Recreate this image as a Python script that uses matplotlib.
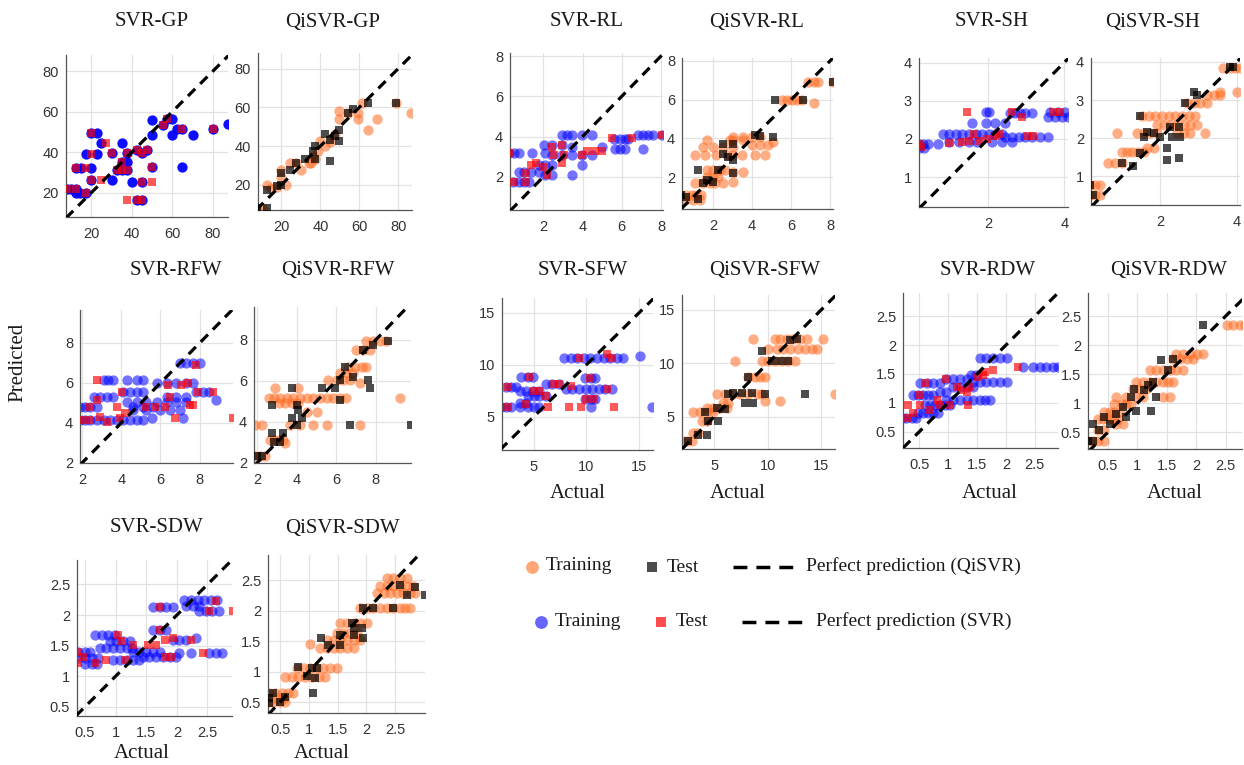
import numpy as np
import matplotlib
matplotlib.use('Agg')
import matplotlib.pyplot as plt
from matplotlib.ticker import FormatStrFormatter

# (actual, predicted) pairs for each trait; SVR in blue/red, QiSVR in orange/black
gp_svr_train = [(8, 22), (10, 22), (12.5, 22), (12.5, 20), (14.5, 20), (17.4, 20), (12.4, 32.3), (15, 32.3),
                (19.7, 32.3), (17.4, 39), (22.6, 39), (19.7, 49.3), (22.6, 49.3), (19.7, 26.2), (24.8, 44.3),
                (30, 26.2), (30, 39.4), (32.9, 31.2), (35, 31.2), (35, 35.3), (35, 44.3), (37.5, 35.3),
                (37.5, 39.4), (37.5, 31.2), (40, 25.4), (42.4, 41), (42.4, 16.4), (44.9, 39.4), (44.9, 25.4),
                (44.9, 16.4), (47.4, 41), (50, 32.8), (50, 48.4), (50, 55.8), (55.6, 53.4), (57.2, 56.2),
                (60, 56.2), (60, 48.4), (62.2, 51.4), (65, 51.4), (65, 32.8), (70, 48.4), (80, 51.4), (87.4, 53.7)]
gp_svr_test = [(8, 22), (12.5, 22), (17.4, 20), (12.4, 32.3), (17.4, 32.3), (19.7, 39), (19.7, 49.3), (19.7, 26.2),
               (27.3, 44.3), (24.8, 26.2), (30, 39.4), (32.9, 31.2), (35, 31.2), (35, 35.3), (37.5, 39.4),
               (37.5, 31.2), (37.5, 16.4), (42.4, 41), (42.4, 16.4), (44.9, 39.4), (44.9, 25.4), (44.9, 16.4),
               (47.4, 41), (50, 32.8), (50, 25.4), (55.6, 53.4), (57.2, 56.2), (65, 51.4), (80, 51.4)]
gp_qi_train = [(7.6, 7.9), (10.2, 7.9), (12.7, 20), (14.7, 18.3), (17.8, 19.1), (20, 27.8), (20, 24), (22.5, 20),
               (24.6, 31.2), (27.6, 31.2), (30.2, 27.8), (34.4, 31.2), (35, 31), (36.4, 34.7), (37.3, 33.3),
               (39, 37.3), (39.8, 42.5), (42.4, 39.9), (44.9, 42), (47.5, 46), (49.7, 58), (49.7, 53.7),
               (54.2, 57.2), (59.3, 53.7), (59.3, 57.2), (61.5, 62), (64.4, 48.2), (69.2, 54), (78.8, 62), (86.4, 57.2)]
gp_qi_test = [(7.6, 7.9), (12.7, 7.9), (12.7, 17.4), (17.8, 19.5), (20, 26), (20, 20), (24.6, 27.8), (27.6, 31.2),
              (32.2, 33.3), (36.4, 37.3), (37.3, 40), (37.3, 33.3), (42.4, 46), (44.9, 32.1), (44.9, 43.3),
              (47.5, 45), (49.7, 42.5), (49.7, 48.5), (54.2, 57.2), (56.8, 58.9), (64.4, 62), (78.8, 62)]

rl_svr_train = [(0.26, 3.2), (0.51, 3.2), (0.76, 3.2), (1.44, 3.2), (2.1, 3.2), (0.46, 1.75), (0.77, 1.75),
                (1.02, 1.75), (1.27, 1.75), (0.77, 2.25), (1.02, 2.25), (1.36, 2.25), (1.78, 2.25), (2.1, 2.1),
                (2.45, 2.1), (1.78, 2.6), (2.1, 2.6), (2.45, 2.6), (2.03, 3.6), (2.45, 3.6), (2.96, 3.6),
                (3.47, 3.5), (2.96, 4.1), (3.2, 4.1), (3.47, 4.1), (3.98, 4.1), (4.48, 4.1), (2.45, 3.1),
                (2.96, 3.1), (3.47, 3.1), (3.98, 3.1), (4.48, 3.1), (3.47, 2.1), (3.98, 2.6), (4.99, 3.5),
                (5.58, 3.9), (5.9, 3.9), (6.17, 3.9), (6.34, 3.9), (5.67, 3.4), (5.9, 3.4), (6.17, 3.4),
                (6.85, 4.1), (7.1, 4.1), (7.35, 4.1), (7.6, 4.1), (8.03, 4.1), (7.1, 3.4)]
rl_svr_test = [(0.26, 3.2), (0.51, 1.75), (1.1, 1.75), (1.1, 2.17), (1.36, 2.6), (1.61, 2.67), (2.0, 2.5),
               (2.2, 2.1), (2.45, 3.5), (2.54, 3.1), (2.96, 3.6), (2.96, 2.67), (3.05, 3.1), (3.98, 3.1),
               (4.23, 3.26), (4.65, 3.26), (5.0, 3.26), (5.5, 3.93), (6.5, 3.93), (8.03, 4.1)]
rl_qi_train = [(0.37, 1.08), (0.63, 1.08), (0.89, 1.08), (1.14, 1.08), (1.4, 1.08), (0.54, 0.84), (0.97, 0.84),
               (1.31, 0.84), (1.06, 1.69), (1.49, 1.69), (1.83, 1.69), (2.09, 1.69), (2.51, 1.69), (1.66, 2.0),
               (2.0, 2.0), (2.26, 2.0), (1.66, 2.35), (2.0, 2.35), (2.34, 2.35), (2.6, 2.35), (1.06, 3.12),
               (1.57, 3.12), (2.17, 3.12), (2.69, 3.12), (3.03, 3.12), (3.46, 3.12), (1.49, 3.56), (2.0, 3.56),
               (2.51, 3.56), (3.03, 3.56), (1.66, 3.9), (2.86, 3.9), (3.03, 3.9), (3.54, 3.9), (3.03, 4.08),
               (3.54, 4.08), (3.97, 4.08), (4.4, 4.08), (3.97, 3.64), (4.4, 3.64), (4.83, 3.64), (4.14, 3.12),
               (4.66, 3.12), (3.03, 2.26), (3.54, 2.26), (3.03, 1.74), (5.09, 3.82), (5.52, 5.98), (5.77, 5.98),
               (6.03, 5.98), (6.29, 5.98), (6.55, 5.98), (7.15, 5.8), (6.89, 6.93), (7.15, 6.93), (7.4, 6.93),
               (8.17, 6.93)]
rl_qi_test = [(0.37, 1.08), (0.63, 0.96), (1.23, 2.35), (1.23, 0.88), (1.49, 1.69), (1.66, 1.83), (2.0, 1.74),
              (2.26, 2.35), (2.51, 3.7), (2.51, 3.18), (2.77, 3.04), (3.03, 2.21), (3.03, 3.73), (3.03, 2.87),
              (4.14, 4.16), (4.4, 4.11), (5.09, 4.08), (5.17, 5.98), (6.63, 5.98), (8.17, 6.93)]

sh_svr_train = [(0.17, 1.87), (0.28, 1.87), (0.41, 1.87), (0.19, 1.76), (0.32, 1.76), (0.67, 1.86), (0.97, 1.91),
                (1.23, 1.91), (1.5, 1.91), (1.71, 1.91), (0.8, 2.13), (0.97, 2.13), (1.15, 2.13), (1.32, 2.13),
                (1.5, 2.13), (1.67, 2.13), (1.84, 2.13), (2.02, 2.13), (2.19, 2.13), (2.37, 2.13), (2.45, 2.04),
                (2.63, 2.04), (2.8, 2.04), (2.97, 2.04), (3.15, 2.04), (3.37, 2.04), (3.58, 2.04), (1.58, 2.43),
                (1.93, 2.43), (2.19, 2.43), (2.45, 2.43), (1.93, 2.7), (2.02, 2.7), (2.58, 2.68), (2.71, 2.68),
                (2.84, 2.68), (2.97, 2.68), (3.15, 2.68), (3.58, 2.57), (3.76, 2.57), (3.93, 2.57), (4.1, 2.57),
                (3.63, 2.7), (3.84, 2.7), (4.02, 2.7), (2.1, 1.91), (2.37, 1.91), (2.63, 1.91)]
sh_svr_test = [(0.19, 1.87), (0.23, 1.78), (0.97, 1.9), (1.32, 1.91), (1.45, 2.7), (1.5, 1.96), (1.63, 2.13),
               (1.76, 1.96), (1.97, 2.0), (2.19, 2.09), (2.28, 2.13), (2.63, 2.7), (2.89, 2.57), (3.02, 2.09),
               (3.19, 2.09), (3.71, 2.7), (3.89, 2.7)]
sh_qi_train = [(0.17, 0.78), (0.3, 0.78), (0.43, 0.78), (0.17, 0.52), (0.3, 0.52), (0.43, 0.52), (0.65, 1.35),
               (0.83, 1.35), (1.0, 1.35), (1.0, 1.65), (1.13, 1.65), (1.26, 1.65), (1.43, 1.65), (1.57, 1.65),
               (0.87, 2.13), (1.39, 2.13), (1.57, 2.13), (1.74, 2.13), (1.91, 2.13), (1.65, 1.74), (1.83, 1.74),
               (1.52, 2.57), (1.7, 2.57), (1.87, 2.57), (2.04, 2.57), (2.22, 2.57), (2.39, 2.57), (2.57, 2.57),
               (2.74, 2.57), (2.91, 2.57), (1.91, 2.35), (2.09, 2.35), (2.26, 2.35), (2.43, 2.35), (2.61, 2.35),
               (2.78, 2.35), (2.96, 2.35), (2.43, 2.13), (2.61, 2.13), (2.78, 2.13), (2.7, 2.91), (2.87, 2.91),
               (3.04, 2.91), (3.22, 2.91), (3.22, 3.13), (3.39, 3.13), (3.57, 3.13), (3.57, 3.22), (4.0, 3.22),
               (3.65, 3.83), (3.83, 3.83), (3.96, 3.83), (4.09, 3.83), (3.17, 2.13)]
sh_qi_test = [(0.17, 0.78), (0.26, 0.52), (1.0, 1.35), (1.3, 1.26), (1.48, 2.57), (1.48, 1.61), (1.57, 2.04),
              (1.65, 2.17), (1.83, 2.13), (2.0, 2.04), (2.17, 1.74), (2.17, 1.43), (2.26, 2.3), (2.3, 2.04),
              (2.48, 2.3), (2.48, 1.48), (2.52, 2.04), (2.65, 2.91), (2.87, 3.22), (2.96, 3.13), (3.83, 3.87),
              (3.91, 3.87)]

rfw_svr_train = [(1.92, 4.14), (2.17, 4.14), (2.42, 4.14), (2.76, 4.14), (3.1, 4.14), (3.44, 4.14), (3.77, 4.14),
                 (4.11, 4.14), (4.45, 4.14), (4.79, 4.14), (5.13, 4.14), (1.92, 4.81), (2.17, 4.81), (2.42, 4.81),
                 (2.76, 4.81), (4.62, 4.81), (5.13, 4.81), (5.63, 4.81), (2.59, 5.32), (2.93, 5.32), (3.27, 5.32),
                 (3.6, 5.32), (3.1, 6.15), (3.35, 6.15), (3.6, 6.15), (4.28, 6.15), (4.79, 6.15), (5.13, 6.15),
                 (4.11, 5.57), (4.45, 5.57), (4.79, 5.57), (5.13, 5.57), (4.28, 5.07), (4.79, 5.07), (5.29, 5.07),
                 (5.8, 5.07), (6.31, 5.07), (6.81, 5.07), (7.32, 5.07), (4.62, 4.65), (5.29, 4.65), (5.97, 4.65),
                 (6.48, 4.65), (6.98, 4.65), (5.8, 5.98), (6.31, 5.98), (6.81, 5.98), (6.31, 5.32), (6.81, 5.32),
                 (7.32, 5.32), (6.98, 7.0), (7.32, 7.0), (7.66, 7.0), (8.0, 7.0), (7.32, 5.98), (7.66, 5.98),
                 (7.83, 5.57), (8.17, 5.57), (8.5, 5.57), (8.84, 5.15), (7.15, 4.23), (5.55, 4.23)]
rfw_svr_test = [(2.0, 4.14), (2.34, 4.81), (2.34, 4.14), (2.76, 6.15), (2.76, 5.15), (2.93, 4.31), (3.27, 4.06),
                (3.77, 4.81), (3.94, 4.23), (4.03, 5.57), (4.2, 4.48), (5.29, 4.81), (5.72, 4.81), (6.22, 4.81),
                (6.39, 5.9), (6.48, 5.32), (6.73, 4.23), (7.07, 5.9), (7.4, 5.98), (7.49, 4.9), (7.66, 4.9),
                (7.83, 6.91), (7.9, 5.57), (8.67, 5.57), (9.7, 4.23)]
rfw_qi_train = [(1.92, 2.33), (2.17, 2.33), (2.42, 2.33), (1.92, 3.84), (2.25, 3.84), (2.67, 3.11), (2.84, 3.11),
                (3.09, 3.11), (3.34, 3.11), (3.42, 2.95), (2.59, 5.15), (2.84, 5.15), (3.17, 5.15), (3.51, 5.15),
                (3.84, 5.15), (4.18, 5.15), (4.51, 5.15), (4.85, 5.15), (5.18, 5.15), (5.52, 5.15), (5.85, 5.15),
                (6.19, 5.15), (6.52, 5.15), (3.09, 4.9), (3.42, 4.9), (3.76, 4.9), (4.09, 4.9), (2.92, 5.64),
                (4.09, 5.64), (3.67, 3.84), (4.18, 3.84), (4.85, 3.84), (5.52, 3.84), (4.51, 4.5), (5.01, 4.5),
                (5.6, 6.05), (6.02, 6.05), (6.36, 6.05), (6.69, 6.05), (6.19, 6.37), (6.52, 6.37), (6.86, 6.37),
                (6.61, 6.7), (6.94, 6.7), (7.28, 6.7), (7.53, 6.7), (7.02, 7.51), (7.36, 7.51), (7.7, 7.51),
                (7.53, 7.92), (7.86, 7.92), (8.2, 7.92), (8.53, 7.92), (7.19, 3.84), (9.2, 5.15), (7.19, 5.88)]
rfw_qi_test = [(2.0, 2.33), (2.25, 2.33), (2.75, 3.44), (2.84, 3.03), (3.17, 3.03), (2.75, 4.82), (3.34, 3.44),
               (3.76, 5.64), (3.76, 4.17), (4.01, 4.82), (4.01, 3.84), (4.09, 4.58), (4.26, 4.17), (5.27, 5.64),
               (5.94, 5.64), (6.19, 6.05), (6.19, 5.07), (6.44, 6.7), (6.86, 6.21), (7.36, 7.51), (7.61, 6.05),
               (7.7, 5.64), (7.86, 7.76), (8.62, 7.92), (6.69, 3.84), (9.79, 3.84)]

sfw_svr_train = [(1.94, 5.93), (2.41, 5.93), (2.88, 5.93), (3.66, 5.93), (4.44, 5.93), (5.06, 5.93), (5.53, 5.93),
                 (16.16, 5.93), (10.4, 5.93), (2.41, 7.88), (2.88, 7.88), (3.34, 7.88), (3.81, 8.81), (4.44, 8.81),
                 (4.9, 8.81), (3.66, 7.47), (4.28, 7.47), (4.9, 7.47), (5.53, 7.47), (4.44, 6.99), (5.06, 6.99),
                 (5.53, 6.99), (6.16, 6.99), (3.66, 6.35), (4.28, 6.35), (6.16, 8.1), (6.78, 8.1), (7.41, 8.1),
                 (8.03, 7.63), (8.66, 7.63), (9.28, 7.63), (9.91, 7.63), (10.53, 7.63), (11.16, 7.63),
                 (11.78, 7.63), (12.41, 7.63), (7.87, 10.67), (8.5, 10.67), (9.12, 10.67), (9.75, 10.67),
                 (10.37, 10.67), (11.0, 10.67), (11.62, 10.67), (12.25, 10.67), (12.87, 10.67), (13.5, 10.67),
                 (15.06, 10.83), (9.9, 8.75), (10.4, 8.75), (10.8, 8.75), (9.9, 6.67), (10.4, 6.67), (10.8, 6.67)]
sfw_svr_test = [(2.56, 7.88), (2.56, 5.93), (4.28, 6.25), (4.6, 8.81), (5.06, 7.47), (5.53, 7.47), (6.16, 6.99),
                (6.31, 5.93), (6.94, 8.1), (7.41, 8.1), (8.34, 5.93), (8.5, 7.95), (9.44, 5.93), (9.28, 10.67),
                (9.91, 6.67), (10.37, 8.75), (10.69, 6.67), (11.94, 7.63), (11.94, 11.0), (12.41, 10.67),
                (12.56, 5.93)]
sfw_qi_train = [(1.98, 2.79), (2.45, 2.79), (2.91, 2.79), (3.07, 3.49), (3.54, 3.49), (3.85, 4.59), (4.31, 4.59),
                (3.07, 5.44), (3.69, 5.44), (4.31, 5.44), (4.94, 5.44), (4.31, 5.85), (4.94, 5.85), (5.56, 5.85),
                (6.18, 5.85), (5.87, 6.32), (6.34, 6.32), (5.25, 7.11), (6.03, 7.11), (6.81, 7.11), (7.43, 7.11),
                (8.21, 7.11), (9.0, 7.11), (9.77, 6.48), (11.17, 6.48), (8.21, 8.69), (8.83, 8.69), (9.3, 8.69),
                (9.77, 8.69), (6.96, 10.27), (9.46, 10.27), (10.08, 10.27), (10.7, 10.27), (11.32, 10.27),
                (11.95, 10.27), (12.57, 10.27), (10.08, 11.37), (10.86, 11.37), (11.48, 11.37), (12.1, 11.37),
                (12.88, 11.37), (13.5, 11.37), (14.12, 11.37), (14.6, 11.37), (8.68, 12.32), (10.7, 12.32),
                (11.17, 12.32), (11.79, 12.32), (12.41, 12.32), (13.04, 12.32), (13.66, 12.32), (15.22, 12.32),
                (16.3, 7.11), (9.46, 7.11)]
sfw_qi_test = [(2.6, 2.79), (3.54, 3.33), (4.31, 3.33), (4.16, 5.44), (4.47, 4.59), (5.25, 5.85), (5.4, 4.59),
               (6.03, 5.76), (6.34, 7.11), (6.81, 7.27), (7.59, 7.27), (7.9, 6.32), (8.21, 8.69), (8.52, 7.27),
               (8.68, 6.32), (9.46, 11.21), (9.77, 7.11), (10.39, 10.27), (11.17, 10.27), (11.95, 10.27),
               (12.1, 12.16), (12.73, 12.32), (13.5, 7.11)]

rdw_svr_train = [(0.21, 0.74), (0.28, 0.74), (0.37, 0.74), (0.45, 0.74), (0.48, 0.83), (0.57, 0.83), (0.66, 0.83),
                 (0.74, 0.83), (0.83, 0.83), (0.6, 0.96), (0.68, 0.96), (0.77, 0.96), (0.86, 0.96), (0.94, 0.96),
                 (1.03, 0.96), (0.4, 1.13), (0.48, 1.13), (0.57, 1.13), (0.66, 1.13), (0.74, 1.13), (0.51, 1.34),
                 (0.63, 1.34), (0.74, 1.34), (0.86, 1.34), (0.97, 1.05), (1.09, 1.05), (1.2, 1.05), (1.32, 1.05),
                 (1.43, 1.05), (1.55, 1.05), (1.64, 1.05), (1.72, 1.05), (0.97, 1.42), (1.09, 1.42), (1.2, 1.42),
                 (1.32, 1.42), (1.09, 1.28), (1.2, 1.28), (1.32, 1.28), (1.43, 1.28), (1.43, 1.36), (1.55, 1.36),
                 (1.66, 1.36), (1.78, 1.36), (1.89, 1.36), (2.01, 1.36), (1.4, 1.48), (1.49, 1.48), (1.55, 1.77),
                 (1.66, 1.77), (1.78, 1.77), (1.89, 1.77), (2.01, 1.77), (2.3, 1.62), (2.47, 1.62), (2.59, 1.62),
                 (2.7, 1.62), (2.82, 1.62), (2.9, 1.62), (0.86, 1.19), (0.97, 1.19)]
rdw_svr_test = [(0.31, 0.96), (0.31, 0.74), (0.4, 0.83), (0.51, 1.13), (0.51, 0.96), (0.6, 1.34), (0.68, 0.87),
                (0.8, 1.05), (0.86, 0.96), (0.97, 1.42), (1.03, 0.96), (1.15, 1.28), (1.23, 1.22), (1.32, 1.19),
                (1.35, 0.96), (1.38, 1.28), (1.52, 1.45), (1.61, 1.48), (1.64, 1.54), (1.78, 1.57), (2.21, 1.62)]
rdw_qi_train = [(0.16, 0.34), (0.24, 0.34), (0.33, 0.34), (0.44, 0.34), (0.33, 0.53), (0.44, 0.53), (0.33, 0.73),
                (0.41, 0.73), (0.5, 0.73), (0.59, 0.73), (0.67, 0.73), (0.44, 0.85), (0.53, 0.85), (0.61, 0.85),
                (0.7, 0.85), (0.64, 0.64), (0.76, 0.64), (0.61, 0.99), (0.73, 0.99), (0.81, 0.99), (0.9, 0.99),
                (0.64, 1.1), (0.81, 1.1), (0.98, 1.1), (1.1, 1.1), (0.98, 1.36), (1.1, 1.36), (1.21, 1.36),
                (1.32, 1.36), (1.44, 1.36), (1.52, 1.36), (1.61, 1.36), (0.93, 1.25), (1.04, 1.25), (1.15, 1.25),
                (1.44, 1.1), (1.55, 1.1), (1.21, 1.58), (1.32, 1.58), (1.44, 1.58), (1.55, 1.58), (1.66, 1.58),
                (1.78, 1.58), (1.61, 1.77), (1.72, 1.77), (1.84, 1.77), (1.95, 1.77), (1.66, 1.85), (1.78, 1.85),
                (1.89, 1.85), (2.01, 1.85), (2.12, 1.85), (2.52, 2.34), (2.63, 2.34), (2.74, 2.34), (2.83, 2.34)]
rdw_qi_test = [(0.16, 0.34), (0.24, 0.34), (0.24, 0.64), (0.35, 0.53), (0.44, 0.76), (0.53, 0.64), (0.64, 0.82),
               (0.76, 0.93), (0.81, 0.76), (0.9, 1.1), (0.95, 1.25), (0.98, 0.87), (1.12, 1.22), (1.18, 1.31),
               (1.27, 1.36), (1.24, 0.87), (1.32, 1.1), (1.41, 1.74), (1.52, 1.57), (1.61, 1.77), (2.12, 2.34)]

sdw_svr_train = [(0.39, 1.4), (0.5, 1.4), (0.58, 1.4), (0.39, 1.29), (0.5, 1.29), (0.61, 1.29), (0.72, 1.29),
                 (0.5, 1.2), (0.61, 1.2), (0.69, 1.2), (0.66, 1.68), (0.77, 1.68), (0.88, 1.68), (0.99, 1.68),
                 (0.91, 1.57), (1.01, 1.57), (1.12, 1.57), (1.23, 1.57), (0.74, 1.46), (0.85, 1.46), (0.96, 1.46),
                 (1.07, 1.46), (1.18, 1.46), (1.26, 1.46), (0.96, 1.27), (1.07, 1.27), (1.18, 1.27), (1.28, 1.27),
                 (1.39, 1.27), (1.28, 1.4), (1.39, 1.4), (1.5, 1.4), (1.61, 1.4), (1.72, 1.4), (1.45, 1.32),
                 (1.55, 1.32), (1.66, 1.32), (1.77, 1.32), (1.88, 1.32), (1.99, 1.32), (1.61, 1.76), (1.72, 1.76),
                 (1.82, 1.76), (1.61, 2.13), (1.72, 2.13), (1.82, 2.13), (1.93, 2.13), (1.93, 1.6), (2.04, 1.6),
                 (2.15, 1.6), (2.04, 1.38), (2.23, 1.38), (2.53, 1.38), (2.64, 1.38), (2.74, 1.38), (2.12, 2.25),
                 (2.23, 2.25), (2.34, 2.25), (2.45, 2.25), (2.55, 2.25), (2.66, 2.25), (2.15, 2.14), (2.26, 2.14),
                 (2.36, 2.14), (2.36, 2.06), (2.47, 2.06), (2.58, 2.06), (2.69, 2.06), (2.31, 1.62)]
sdw_svr_test = [(0.38, 1.4), (0.39, 1.21), (0.47, 1.32), (0.66, 1.21), (0.85, 1.27), (1.04, 1.68), (1.09, 1.57),
                (1.15, 1.27), (1.28, 1.51), (1.53, 1.51), (1.66, 1.51), (1.72, 1.76), (1.8, 1.6), (1.82, 1.32),
                (1.9, 1.32), (1.93, 1.62), (1.72, 2.13), (2.23, 1.6), (2.42, 1.38), (2.64, 2.23), (2.53, 2.07),
                (2.91, 2.06)]
sdw_qi_train = [(0.3, 0.5), (0.38, 0.5), (0.5, 0.5), (0.59, 0.5), (0.3, 0.65), (0.41, 0.65), (0.53, 0.65),
                (0.64, 0.65), (0.73, 0.65), (0.44, 0.57), (0.56, 0.57), (0.59, 0.91), (0.7, 0.91), (0.82, 0.91),
                (0.93, 0.91), (1.05, 0.91), (1.17, 0.91), (1.28, 0.91), (0.79, 1.06), (0.91, 1.06), (1.02, 1.06),
                (1.14, 1.06), (1.25, 1.06), (1.37, 1.06), (1.49, 1.06), (1.02, 1.45), (1.2, 1.38), (1.31, 1.38),
                (1.43, 1.38), (1.54, 1.38), (1.66, 1.38), (1.78, 1.38), (1.31, 1.52), (1.43, 1.52), (1.54, 1.52),
                (1.66, 1.52), (1.78, 1.52), (1.89, 1.52), (1.49, 1.63), (1.6, 1.63), (1.72, 1.63), (1.83, 1.63),
                (1.54, 1.79), (1.66, 1.79), (1.78, 1.79), (1.89, 1.79), (2.01, 1.79), (1.89, 2.04), (2.01, 2.04),
                (2.12, 2.04), (2.24, 2.04), (2.36, 2.04), (2.47, 2.04), (2.59, 2.04), (2.67, 2.04), (2.76, 2.04),
                (2.18, 2.28), (2.3, 2.28), (2.41, 2.28), (2.53, 2.28), (2.64, 2.28), (2.76, 2.28), (2.85, 2.28),
                (2.24, 2.4), (2.36, 2.4), (2.47, 2.4), (2.59, 2.4), (2.7, 2.4), (2.82, 2.4), (2.36, 2.53),
                (2.47, 2.53), (2.59, 2.53), (2.7, 2.53)]
sdw_qi_test = [(0.3, 0.57), (0.3, 0.48), (0.38, 0.65), (0.5, 0.5), (0.59, 0.59), (0.82, 1.08), (0.96, 0.92),
               (1.05, 1.06), (1.11, 0.89), (1.14, 1.06), (1.08, 0.65), (1.22, 1.55), (1.34, 1.44), (1.54, 1.44),
               (1.54, 1.6), (1.75, 1.79), (1.78, 1.6), (1.78, 1.71), (1.92, 1.71), (1.95, 1.55), (1.95, 2.04),
               (2.12, 2.04), (2.47, 2.04), (2.59, 2.42), (2.7, 2.25), (2.84, 2.39), (3.02, 2.25)]

W, H = 1244, 765
BLUE, RED = '#0000ff', '#ff0000'
ORANGE, BLACK = '#ff6a1f', '#000000'
SERIF = ['Liberation Serif', 'DejaVu Serif']
SANS = ['Liberation Sans', 'DejaVu Sans']

plt.rcParams['font.family'] = SANS


def unzip(pts):
  a = np.array(pts, dtype=float)
  return a[:, 0], a[:, 1]


def panel(fig, box, train, test, xlim, ylim, ticks, qi, blue_alpha=0.55):
  l, t, r, b = box
  ax = fig.add_axes([l / W, 1 - b / H, (r - l) / W, (b - t) / H])
  tx, ty = unzip(train)
  sx, sy = unzip(test)
  if qi:
    ax.scatter(tx, ty, s=55, marker='o', color=ORANGE, alpha=0.55, linewidths=0, zorder=2)
    ax.scatter(sx, sy, s=30, marker='s', color=BLACK, alpha=0.7, linewidths=0, zorder=3)
  else:
    ax.scatter(tx, ty, s=55, marker='o', color=BLUE, alpha=blue_alpha, linewidths=0, zorder=2)
    ax.scatter(sx, sy, s=30, marker='s', color=RED, alpha=0.65, linewidths=0, zorder=3)
  lo, hi = min(xlim[0], ylim[0]), max(xlim[1], ylim[1])
  ax.plot([lo, hi], [lo, hi], color='black', lw=2.3, dashes=(3.2, 2.2), zorder=4)
  ax.set_xlim(xlim)
  ax.set_ylim(ylim)
  ax.set_xticks(ticks[0])
  ax.set_yticks(ticks[1])
  fmt = FormatStrFormatter('%g')
  ax.xaxis.set_major_formatter(fmt)
  ax.yaxis.set_major_formatter(fmt)
  ax.grid(True, color='#e2e2e2', lw=0.9, zorder=0)
  ax.set_axisbelow(True)
  for s in ('top', 'right'):
    ax.spines[s].set_visible(False)
  for s in ('left', 'bottom'):
    ax.spines[s].set_color('#555555')
    ax.spines[s].set_linewidth(0.9)
  ax.tick_params(axis='both', length=0, labelsize=10.5, labelcolor='#333333')
  ax.tick_params(axis='x', pad=7)
  ax.tick_params(axis='y', pad=5)
  return ax


fig = plt.figure(figsize=(W / 100, H / 100), dpi=100)

t20 = [20, 40, 60, 80]
t2 = [2, 4, 6, 8]
th = [0.5, 1, 1.5, 2, 2.5]

panel(fig, (66, 55, 228, 217), gp_svr_train, gp_svr_test, (7.5, 87.5), (8, 88), (t20, t20), False, blue_alpha=0.95)
panel(fig, (258, 53, 412, 210), gp_qi_train, gp_qi_test, (8, 87), (7, 88), (t20, t20), True)
panel(fig, (510, 53, 663, 210), rl_svr_train, rl_svr_test, (0.3, 8.1), (0.35, 8.15), (t2, t2), False)
panel(fig, (682, 58, 833, 209), rl_qi_train, rl_qi_test, (0.4, 8.15), (0.35, 8.15), (t2, t2), True)
panel(fig, (919, 58, 1068, 207), sh_svr_train, sh_svr_test, (0.18, 4.1), (0.22, 4.12), ([2, 4], [1, 2, 3, 4]), False)
panel(fig, (1091, 58, 1240, 205), sh_qi_train, sh_qi_test, (0.2, 4.08), (0.25, 4.1), ([2, 4], [1, 2, 3, 4]), True)

panel(fig, (80, 310, 233, 463), rfw_svr_train, rfw_svr_test, (1.9, 9.7), (2, 9.65), (t2, t2), False)
panel(fig, (254, 307, 411, 463), rfw_qi_train, rfw_qi_test, (1.85, 9.78), (2, 9.6), (t2, t2), True)
panel(fig, (502, 298, 653, 450), sfw_svr_train, sfw_svr_test, (2, 16.3), (1.8, 16.4), ([5, 10, 15], [5, 10, 15]), False)
panel(fig, (682, 295, 835, 449), sfw_qi_train, sfw_qi_test, (2, 16.3), (2, 16.4), ([5, 10, 15], [5, 10, 15]), True)
panel(fig, (903, 293, 1058, 448), rdw_svr_train, rdw_svr_test, (0.22, 2.9), (0.22, 2.9), (th, th), False)
panel(fig, (1088, 293, 1242, 449), rdw_qi_train, rdw_qi_test, (0.16, 2.78), (0.21, 2.9), (th, th), True)

panel(fig, (77, 560, 232, 716), sdw_svr_train, sdw_svr_test, (0.37, 2.9), (0.35, 2.9), (th, th), False)
panel(fig, (268, 555, 425, 713), sdw_qi_train, sdw_qi_test, (0.29, 3.02), (0.32, 2.91), (th, th), True)

# panel titles and axis labels, placed in pixel coordinates
titles = [('SVR-GP', 152, 22), ('QiSVR-GP', 333, 22), ('SVR-RL', 587, 22), ('QiSVR-RL', 757, 22),
          ('SVR-SH', 992, 22), ('QiSVR-SH', 1153, 22), ('SVR-RFW', 176, 270), ('QiSVR-RFW', 338, 270),
          ('SVR-SFW', 583, 270), ('QiSVR-SFW', 765, 270), ('SVR-RDW', 988, 270), ('QiSVR-RDW', 1169, 270),
          ('SVR-SDW', 157, 528), ('QiSVR-SDW', 342, 528)]
for txt, x, y in titles:
  fig.text(x / W, 1 - y / H, txt, ha='center', va='center', fontsize=15, family=SERIF, color='#1a1a1a')

for x, y in [(578, 493), (738, 493), (990, 493), (1175, 493), (142, 753), (322, 753)]:
  fig.text(x / W, 1 - y / H, 'Actual', ha='center', va='center', fontsize=15, family=SERIF, color='#1a1a1a')
fig.text(18 / W, 1 - 362 / H, 'Predicted', ha='center', va='center', rotation=90, fontsize=15,
         family=SERIF, color='#1a1a1a')

# legend block drawn on a pixel-space overlay
lg = fig.add_axes([0, 0, 1, 1])
lg.set_xlim(0, W)
lg.set_ylim(H, 0)
lg.axis('off')
lg.set_zorder(-1)
legend_rows = [(567, ORANGE, BLACK, 532, 652, (733, 795), 'Perfect prediction (QiSVR)'),
               (622, BLUE, RED, 541, 661, (742, 805), 'Perfect prediction (SVR)')]
for y, c1, c2, xc, xs, (d0, d1), lab in legend_rows:
  lg.scatter([xc], [y], s=85, marker='o', color=c1, alpha=0.6, linewidths=0)
  lg.scatter([xs], [y], s=45, marker='s', color=c2, alpha=0.7, linewidths=0)
  lg.plot([d0, d1], [y, y], color='black', lw=2.5, dashes=(4, 2.6))
  lg.text(xc + 14, y - 1, 'Training', ha='left', va='center', fontsize=14, family=SERIF, color='#1a1a1a')
  lg.text(xs + 15, y, 'Test', ha='left', va='center', fontsize=14, family=SERIF, color='#1a1a1a')
  lg.text(d1 + 11, y - 1, lab, ha='left', va='center', fontsize=14, family=SERIF, color='#1a1a1a')

fig.savefig('out.png', dpi=100)
